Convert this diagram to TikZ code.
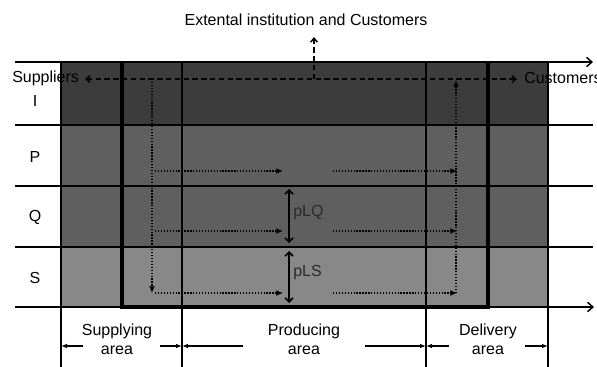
\documentclass[tikz,border=0pt]{standalone}
\usepackage{fontspec}
\setmainfont{Liberation Sans}
\usetikzlibrary{arrows.meta}
\definecolor{bandI}{HTML}{3C3C3C}
\definecolor{bandPQ}{HTML}{5F5F5F}
\definecolor{bandS}{HTML}{888888}
\definecolor{innertext}{HTML}{2A2A2A}
\begin{document}
\begin{tikzpicture}[x=0.75pt,y=-0.75pt,
  every node/.style={font=\fontsize{12}{14}\selectfont, inner sep=0pt},
  gridline/.style={line width=1.1pt},
  axisline/.style={line width=1.1pt, -{Straight Barb[length=4pt,width=7pt,line width=1.1pt]}},
  framebox/.style={line width=2.3pt},
  flowdash/.style={line width=1.1pt, dash pattern=on 4pt off 2.6pt,
    {Straight Barb[length=3pt,width=5pt,line width=1.1pt]}-{Straight Barb[length=3pt,width=5pt,line width=1.1pt]}},
  updash/.style={line width=1.1pt, dash pattern=on 4pt off 2.6pt,
    -{Straight Barb[length=3pt,width=5pt,line width=1.1pt]}},
  flowdot/.style={line width=1.4pt, dash pattern=on 1pt off 1.2pt,
    -{Latex[length=5pt,width=4.5pt]}},
  level/.style={line width=1.2pt, {Straight Barb[length=3pt,width=6pt,line width=1.2pt]}-{Straight Barb[length=3pt,width=6pt,line width=1.2pt]}},
  dimarrow/.style={line width=0.9pt, -{Latex[length=4.5pt,width=3.5pt]}},
]
\useasboundingbox (0,0) rectangle (597,367);

% shaded bands
\fill[bandI]  (61,62)  rectangle (548,125);
\fill[bandPQ] (61,125) rectangle (548,247);
\fill[bandS]  (61,247) rectangle (548,307);

% horizontal grid lines
\coordinate (h0a) at (15,62);  \coordinate (h0b) at (593,62);
\coordinate (h1a) at (15,125); \coordinate (h1b) at (593,125);
\coordinate (h2a) at (15,186); \coordinate (h2b) at (593,186);
\coordinate (h3a) at (15,247); \coordinate (h3b) at (593,247);
\coordinate (h4a) at (15,307); \coordinate (h4b) at (594,307);
\draw[axisline] (h0a) -- (h0b);
\draw[gridline] (h1a) -- (h1b);
\draw[gridline] (h2a) -- (h2b);
\draw[gridline] (h3a) -- (h3b);
\draw[axisline] (h4a) -- (h4b);

% vertical grid lines
\coordinate (v1a) at (61,62);  \coordinate (v1b) at (61,367);
\coordinate (v2a) at (182,62); \coordinate (v2b) at (182,367);
\coordinate (v3a) at (426,62); \coordinate (v3b) at (426,367);
\coordinate (v4a) at (548,62); \coordinate (v4b) at (548,367);
\draw[gridline] (v1a) -- (v1b);
\draw[gridline] (v2a) -- (v2b);
\draw[gridline] (v3a) -- (v3b);
\draw[gridline] (v4a) -- (v4b);

% production frame
\coordinate (f1) at (122,62);  \coordinate (f2) at (122,307);
\coordinate (f3) at (488,307); \coordinate (f4) at (488,62);
\draw[framebox] (f1) -- (f2) -- (f3) -- (f4);

% row labels
\node (rI) at (35,101) {I};
\node (rP) at (35,157) {P};
\node (rQ) at (35,217) {Q};
\node (rS) at (35,278) {S};

% external flows
\node (ext) at (306,20) {Extental institution and Customers};
\node[anchor=base west] (sup) at (12,83) {Suppliers};
\node[anchor=base west] (cus) at (524,84) {Customers};
\coordinate (dl) at (85,79);
\coordinate (dr) at (517,79);
\coordinate (dm) at (314,79);
\coordinate (du) at (314,37);
\draw[flowdash] (dl) -- (dr);
\draw[updash] (dm) -- (du);

% material flows
\coordinate (lt) at (152,79);  \coordinate (lb) at (152,293);
\coordinate (rt) at (456,80);  \coordinate (rb) at (456,293);
\draw[flowdot] (lt) -- (lb);
\draw[flowdot] (rb) -- (rt);
\foreach \yy/\nm in {171/p,231/q,293/s}{
  \coordinate (a\nm) at (155,\yy); \coordinate (b\nm) at (283,\yy);
  \coordinate (c\nm) at (333,\yy); \coordinate (d\nm) at (457,\yy);
  \draw[flowdot] (a\nm) -- (b\nm);
  \draw[flowdot] (c\nm) -- (d\nm);
}

% levels
\coordinate (q1) at (289,189); \coordinate (q2) at (289,243);
\coordinate (s1) at (289,251); \coordinate (s2) at (289,303);
\draw[level] (q1) -- (q2);
\draw[level] (s1) -- (s2);
\node[anchor=west, text=innertext] (pLQ) at (293,213) {pLQ};
\node[anchor=west, text=innertext] (pLS) at (293,273) {pLS};

% areas
\node (sa1) at (117,331) {Supplying};
\node (sa2) at (117,350) {area};
\node (pa1) at (304,331) {Producing};
\node (pa2) at (304,350) {area};
\node (da1) at (488,331) {Delivery};
\node (da2) at (488,350) {area};
\coordinate (m1) at (83,346);  \coordinate (m2) at (61,346);
\coordinate (m3) at (160,346); \coordinate (m4) at (182,346);
\coordinate (m5) at (243,346); \coordinate (m6) at (182,346);
\coordinate (m7) at (365,346); \coordinate (m8) at (426,346);
\coordinate (m9) at (449,346); \coordinate (m10) at (426,346);
\coordinate (m11) at (525,346); \coordinate (m12) at (548,346);
\draw[dimarrow] (m1) -- (m2);
\draw[dimarrow] (m3) -- (m4);
\draw[dimarrow] (m5) -- (m6);
\draw[dimarrow] (m7) -- (m8);
\draw[dimarrow] (m9) -- (m10);
\draw[dimarrow] (m11) -- (m12);
\end{tikzpicture}
\end{document}
